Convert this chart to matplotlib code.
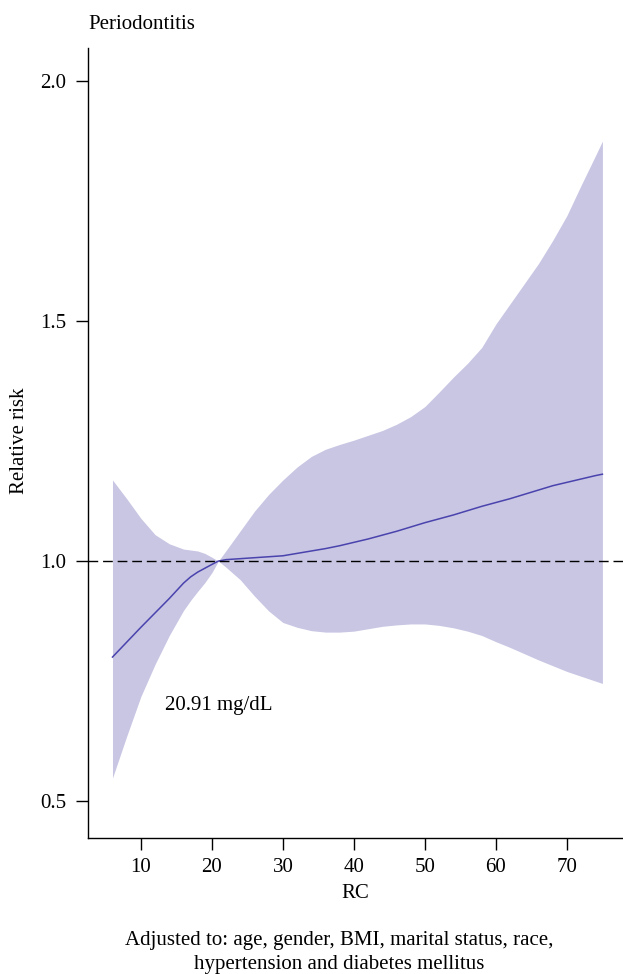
import matplotlib
matplotlib.use("Agg")
import matplotlib.pyplot as plt

plt.rcParams["font.family"] = ["Liberation Serif", "DejaVu Serif"]

# Restricted cubic spline estimate: RC (mg/dL) vs relative risk of periodontitis
rc = [6, 8, 10, 12, 14, 16, 17, 18, 19, 20, 20.91, 22, 24, 26, 28, 30, 32, 34,
      36, 38, 40, 42, 44, 46, 48, 50, 52, 54, 56, 58, 60, 62, 64, 66, 68, 70,
      72, 74, 75]
rr = [0.800, 0.831, 0.862, 0.892, 0.922, 0.954, 0.967, 0.977, 0.985, 0.993,
      1.000, 1.003, 1.005, 1.007, 1.009, 1.011, 1.016, 1.021, 1.026, 1.032,
      1.039, 1.046, 1.054, 1.062, 1.071, 1.080, 1.088, 1.096, 1.105, 1.114,
      1.122, 1.130, 1.139, 1.148, 1.157, 1.164, 1.171, 1.178, 1.181]
rr_low = [0.548, 0.635, 0.718, 0.785, 0.845, 0.897, 0.918, 0.937, 0.955, 0.976,
          1.000, 0.987, 0.961, 0.927, 0.896, 0.872, 0.862, 0.855, 0.852, 0.852,
          0.854, 0.859, 0.864, 0.867, 0.869, 0.869, 0.866, 0.861, 0.854, 0.845,
          0.832, 0.820, 0.807, 0.794, 0.782, 0.770, 0.760, 0.750, 0.745]
rr_high = [1.169, 1.130, 1.089, 1.055, 1.036, 1.025, 1.023, 1.021, 1.016, 1.008,
           1.000, 1.022, 1.063, 1.104, 1.139, 1.169, 1.196, 1.218, 1.233, 1.243,
           1.252, 1.262, 1.272, 1.285, 1.301, 1.322, 1.352, 1.383, 1.412, 1.445,
           1.494, 1.536, 1.578, 1.620, 1.668, 1.720, 1.783, 1.844, 1.875]

cut_point = 20.91
x_ticks = [10, 20, 30, 40, 50, 60, 70]
y_ticks = [0.5, 1.0, 1.5, 2.0]
y_tick_labels = ["0.5", "1.0", "1.5", "2.0"]

FS = 15
W, H = 623, 974
fig = plt.figure(figsize=(W / 100, H / 100), dpi=100)
ax = fig.add_axes([88 / W, 1 - 838 / H, (W - 88) / W, (838 - 48) / H])

ax.fill_between(rc, rr_low, rr_high, color="#c8c6e3", linewidth=0)
ax.plot(rc, rr, color="#4a43ad", linewidth=1.1)
ax.axhline(1.0, color="black", linewidth=1.0, dashes=(7, 3.5))

ax.text(cut_point, 0.70, f"{cut_point:.2f} mg/dL", ha="center", va="center",
        fontsize=FS)

ax.set_xlim(2.55, 77.9)
ax.set_ylim(0.423, 2.069)
ax.set_xticks(x_ticks)
ax.set_yticks(y_ticks)
ax.set_yticklabels(y_tick_labels)

for side in ("top", "right"):
    ax.spines[side].set_visible(False)
for side in ("left", "bottom"):
    ax.spines[side].set_linewidth(1.0)

ax.tick_params(axis="both", direction="out", length=8.6, width=1.0,
               labelsize=FS, colors="black")
ax.tick_params(axis="y", pad=7)
ax.tick_params(axis="x", pad=6)

ax.set_xlabel("RC", fontsize=FS, labelpad=5)

fig.text(20 / W, 1 - 441 / H, "Relative risk", rotation=90, ha="center",
         va="center", fontsize=FS)
fig.text(88 / W, 1 - 29 / H, "Periodontitis", ha="left", va="baseline",
         fontsize=FS)
fig.text(339 / W, 1 - 945 / H, "Adjusted to: age, gender, BMI, marital status, race,",
         ha="center", va="baseline", fontsize=FS)
fig.text(339 / W, 1 - 969 / H, "hypertension and diabetes mellitus",
         ha="center", va="baseline", fontsize=FS)

fig.savefig("out.png", dpi=100)
